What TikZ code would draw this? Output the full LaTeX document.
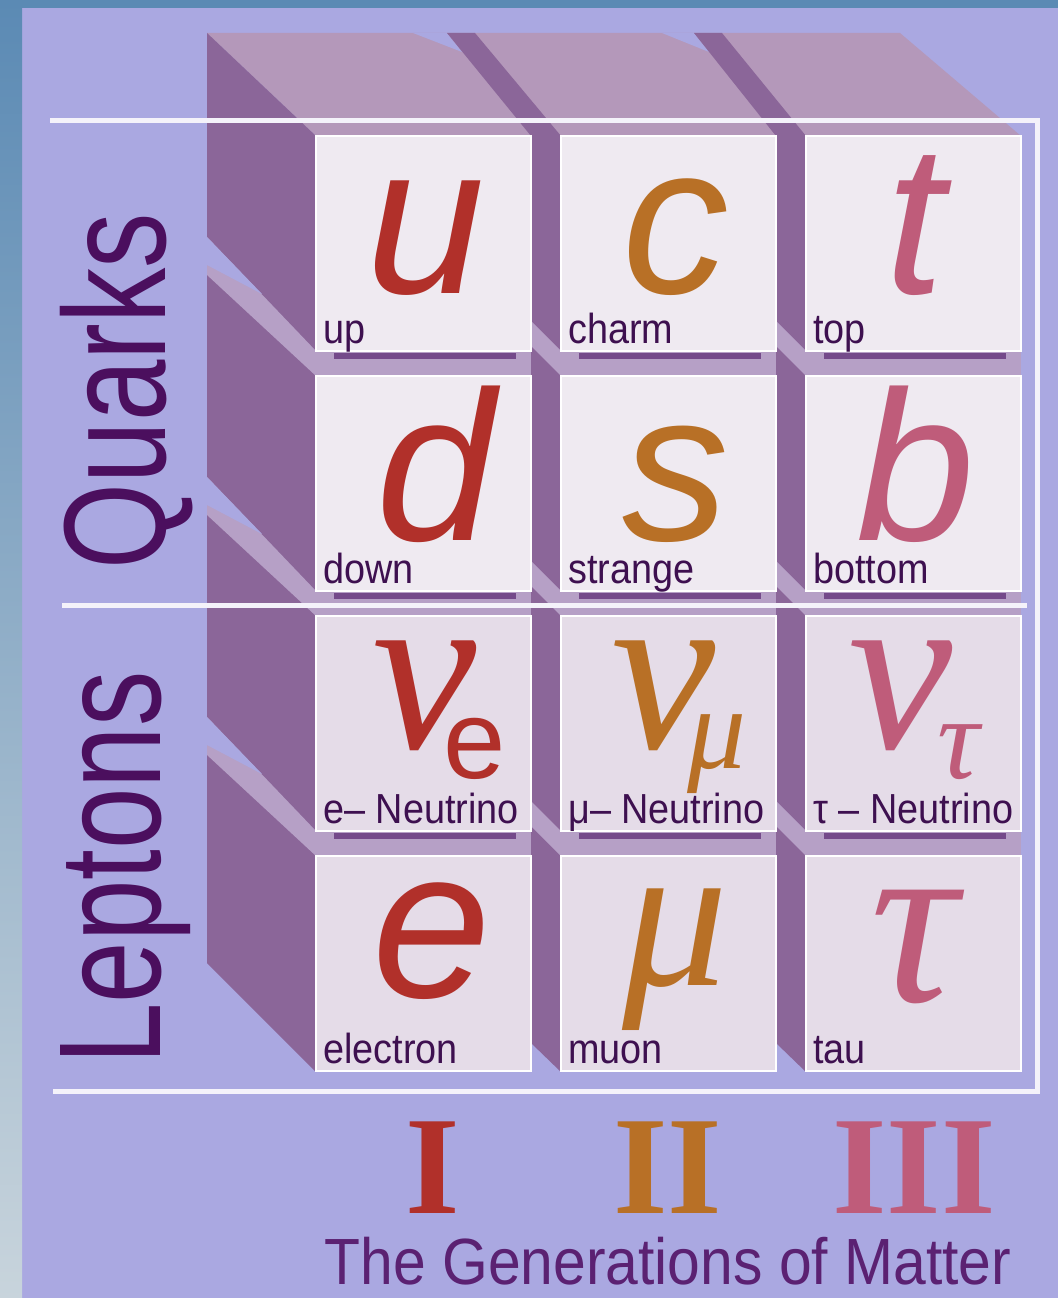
\documentclass[tikz,border=0pt]{standalone}
\usepackage{fontspec}
\setmainfont{Liberation Sans}
\newfontfamily\sidefont[FakeStretch=0.76]{Liberation Sans}
\newfontfamily\tagfont[FakeStretch=0.9]{Liberation Sans}
\newfontfamily\greekfont{Liberation Serif}
\usetikzlibrary{positioning}
\definecolor{PanelLavender}{RGB}{170,168,225}
\definecolor{EdgeBlue}{RGB}{91,138,180}
\definecolor{EdgeGrey}{RGB}{200,212,220}
\definecolor{ShelfMauve}{RGB}{180,152,186}
\definecolor{SideViolet}{RGB}{139,102,153}
\definecolor{BandMauve}{RGB}{182,160,198}
\definecolor{ShadowPurple}{RGB}{116,74,138}
\definecolor{QuarkTile}{RGB}{239,234,241}
\definecolor{LeptonTile}{RGB}{229,220,232}
\definecolor{FrameWhite}{RGB}{244,242,250}
\definecolor{InkPurple}{RGB}{75,15,94}
\definecolor{TagPurple}{RGB}{62,16,80}
\definecolor{TitlePurple}{RGB}{91,33,114}
\definecolor{GenOne}{RGB}{177,48,42}
\definecolor{GenTwo}{RGB}{184,112,38}
\definecolor{GenThree}{RGB}{191,92,122}

\tikzset{
  tilebox/.style={draw=white, line width=1.5pt},
  flavour/.style={anchor=base, inner sep=0pt, font=\fontsize{160}{160}\selectfont\itshape},
  greekbig/.style={anchor=base, inner sep=0pt, font=\fontsize{176}{176}\greekfont\itshape},
  greeksub/.style={anchor=base, inner sep=0pt, font=\fontsize{88}{88}\greekfont\itshape},
  sanssub/.style={anchor=base, inner sep=0pt, font=\fontsize{84}{84}\selectfont},
  tag/.style={anchor=base west, inner sep=0pt, text=TagPurple, font=\fontsize{31.5}{32}\tagfont},
  sidetitle/.style={anchor=base, inner sep=0pt, rotate=90, text=InkPurple, font=\fontsize{109}{109}\sidefont},
  numeral/.style={anchor=base, inner sep=0pt, font=\fontsize{105}{105}\greekfont\bfseries},
  frameline/.style={FrameWhite, line width=3.75pt},
}

\begin{document}
\begin{tikzpicture}[x=0.75pt, y=-0.75pt]
  \useasboundingbox (0,0) rectangle (1058,1298);
  \fill[PanelLavender] (0,0) rectangle (1058,1298);
  \shade[top color=EdgeBlue, bottom color=EdgeGrey] (0,0) rectangle (22,1298);
  \fill[EdgeBlue] (0,0) rectangle (1058,8);

  % shelf and side faces of the boxes
  \fill[ShelfMauve] (207,33) -- (900,33) -- (1021,136) -- (316,136) -- cycle;
  \fill[PanelLavender] (413,33) -- (447,33) -- (462,52) -- cycle;
  \fill[PanelLavender] (662,33) -- (694,33) -- (709,52) -- cycle;
  \fill[SideViolet] (207,33) -- (316,136) -- (316,1072) -- (207,963) -- cycle;
  \foreach \gx/\bx in {531/447, 776/694}
    \fill[SideViolet] (\bx,33) -- (\bx+28,33) -- (\gx+30,136) -- (\gx+30,1072)
      -- (\gx,1043) -- (\gx,136) -- cycle;

  \foreach \by in {351,591,831}{
    \foreach \lx in {316,561,806}{
      \fill[BandMauve] (\lx,\by) rectangle ++(215,25);
      \fill[ShadowPurple] (\lx+18,\by+2) rectangle (\lx+200,\by+8);
    }
    \fill[BandMauve] (207,\by-114) -- (316,\by) -- (316,\by+25) -- (207,\by-76) -- cycle;
    \fill[PanelLavender] (207,\by-114) -- (262,\by-57) -- (207,\by-86) -- cycle;
    \foreach \gx in {531,776}
      \fill[BandMauve] (\gx,\by-30) -- (\gx+30,\by) -- (\gx+30,\by+25) -- (\gx,\by-5) -- cycle;
  }

  \foreach \ty/\tint in {136/QuarkTile, 376/QuarkTile, 616/LeptonTile, 856/LeptonTile}
    \foreach \lx in {316,561,806}
      \draw[tilebox, fill=\tint] (\lx,\ty) rectangle ++(215,215);

  % white frame
  \draw[frameline] (50,121) -- (1037,121) -- (1037,1091) -- (53,1091);
  \draw[frameline] (62,605) -- (1027,605);

  % particle symbols
  \node[flavour, text=GenOne] (sym-u) at (426,293) {u};
  \node[flavour, text=GenTwo] (sym-c) at (676,293) {c};
  \node[flavour, text=GenThree] (sym-t) at (915,293) {t};
  \node[flavour, text=GenOne] (sym-d) at (436,540) {d};
  \node[flavour, text=GenTwo] (sym-s) at (676,540) {s};
  \node[flavour, text=GenThree] (sym-b) at (916,540) {b};
  \node[greekbig, text=GenOne] (sym-nue) at (425,748) {ν};
  \node[sanssub, text=GenOne] (sub-nue) at (475,778) {e};
  \node[greekbig, text=GenTwo] (sym-numu) at (664,748) {ν};
  \node[greeksub, text=GenTwo] (sub-numu) at (717,768) {μ};
  \node[greekbig, text=GenThree] (sym-nutau) at (901,748) {ν};
  \node[greeksub, text=GenThree] (sub-nutau) at (958,778) {τ};
  \node[flavour, text=GenOne] (sym-e) at (432,997) {e};
  \node[greekbig, text=GenTwo, font=\fontsize{158}{158}\greekfont\itshape] (sym-mu) at (675,985) {μ};
  \node[greekbig, text=GenThree, font=\fontsize{182}{182}\greekfont\itshape] (sym-tau) at (914,1001) {τ};

  \foreach \name/\lx/\by/\txt in {up/316/343/up, charm/561/343/charm, top/806/343/top,
      down/316/583/down, strange/561/583/strange, bottom/806/583/bottom,
      nue/316/823/{e– Neutrino}, numu/561/823/{μ– Neutrino}, nutau/806/823/{τ – Neutrino},
      electron/316/1063/electron, muon/561/1063/muon, tau/806/1063/tau}
    \node[tag] (lbl-\name) at (\lx+7,\by) {\txt};

  \node[sidetitle] (quarks) at (165,391) {Quarks};
  \node[sidetitle] (leptons) at (160,868) {Leptons};

  \node[numeral, text=GenOne] (gen-one) at (433,1213) {I};
  \node[numeral, text=GenTwo] (gen-two) at (668,1213) {II};
  \node[numeral, text=GenThree] (gen-three) at (914,1213) {III};
  \node[anchor=base, inner sep=0pt, text=TitlePurple, font=\fontsize{49}{49}\tagfont]
    (caption) at (668,1284) {The Generations of Matter};
\end{tikzpicture}
\end{document}
